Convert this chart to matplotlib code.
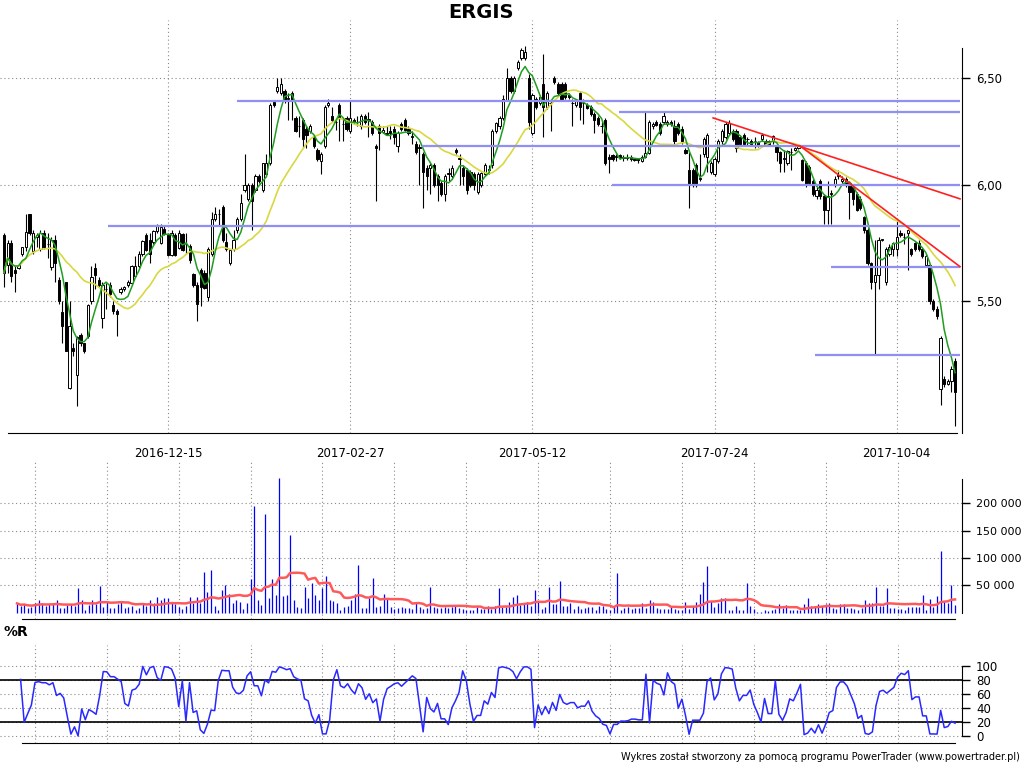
import numpy as np
import pandas as pd
import matplotlib
matplotlib.use("Agg")
import matplotlib.pyplot as plt
from matplotlib.ticker import FixedLocator, NullLocator, FuncFormatter

# ---- data (ERGIS, daily) ----
opn = [5.78, 5.65, 5.745, 5.63, 5.64, 5.70, 5.73, 5.87, 5.71, 5.77,
       5.72, 5.79, 5.74, 5.645, 5.76, 5.59, 5.455, 5.58, 5.155, 5.31,
       5.204, 5.364, 5.33, 5.36, 5.502, 5.64, 5.59, 5.434, 5.55, 5.57,
       5.484, 5.461, 5.539, 5.55, 5.566, 5.577, 5.605, 5.647, 5.70, 5.781,
       5.76, 5.752, 5.796, 5.747, 5.807, 5.781, 5.696, 5.781, 5.724, 5.784,
       5.74, 5.731, 5.612, 5.57, 5.63, 5.62, 5.52, 5.70, 5.85, 5.87,
       5.905, 5.75, 5.66, 5.72, 5.80, 5.85, 5.98, 5.94, 6.00, 5.98,
       6.04, 5.98, 6.05, 6.10, 6.385, 6.44, 6.427, 6.44, 6.40, 6.43,
       6.31, 6.27, 6.30, 6.26, 6.25, 6.22, 6.16, 6.11, 6.18, 6.37,
       6.32, 6.29, 6.37, 6.28, 6.31, 6.25, 6.30, 6.29, 6.27, 6.32,
       6.30, 6.29, 6.18, 6.27, 6.245, 6.24, 6.25, 6.26, 6.18, 6.28,
       6.30, 6.26, 6.22, 6.19, 6.17, 6.14, 6.08, 6.08, 6.09, 6.04,
       6.01, 5.96, 6.05, 6.04, 6.16, 6.12, 6.08, 6.07, 6.06, 6.05,
       5.97, 6.00, 6.05, 6.07, 6.09, 6.25, 6.27, 6.31, 6.395, 6.50,
       6.44, 6.55, 6.60, 6.60, 6.50, 6.24, 6.40, 6.38, 6.47, 6.36,
       6.38, 6.50, 6.47, 6.47, 6.47, 6.42, 6.38, 6.37, 6.43, 6.38,
       6.37, 6.36, 6.33, 6.31, 6.27, 6.30, 6.13, 6.135, 6.13, 6.135,
       6.125, 6.125, 6.13, 6.12, 6.12, 6.11, 6.13, 6.145, 6.27, 6.29,
       6.28, 6.29, 6.28, 6.29, 6.27, 6.28, 6.26, 6.16, 6.07, 6.07,
       6.09, 6.03, 6.14, 6.13, 6.06, 6.05, 6.11, 6.20, 6.22, 6.24,
       6.25, 6.25, 6.22, 6.23, 6.21, 6.20, 6.20, 6.195, 6.21, 6.20,
       6.20, 6.20, 6.175, 6.15, 6.12, 6.10, 6.15, 6.16, 6.17, 6.115,
       6.10, 6.084, 6.02, 5.95, 6.02, 5.95, 5.89, 5.96, 6.00, 6.04,
       6.02, 6.03, 6.01, 5.99, 5.96, 5.94, 5.86, 5.80, 5.66, 5.58,
       5.61, 5.76, 5.58, 5.70, 5.72, 5.72, 5.79, 5.77, 5.79, 5.72,
       5.745, 5.745, 5.72, 5.65, 5.65, 5.50, 5.47, 5.15, 5.19, 5.17,
       5.18, 5.26]
high = [5.79, 5.76, 5.76, 5.65, 5.655, 5.73, 5.87, 5.87, 5.80, 5.79,
        5.80, 5.80, 5.79, 5.77, 5.78, 5.60, 5.50, 5.58, 5.50, 5.33,
        5.36, 5.37, 5.33, 5.49, 5.647, 5.66, 5.60, 5.58, 5.577, 5.58,
        5.50, 5.47, 5.56, 5.565, 5.59, 5.65, 5.69, 5.71, 5.76, 5.79,
        5.79, 5.80, 5.83, 5.83, 5.82, 5.79, 5.80, 5.79, 5.80, 5.79,
        5.79, 5.74, 5.62, 5.58, 5.64, 5.63, 5.73, 5.88, 5.905, 5.895,
        5.91, 5.79, 5.72, 5.80, 5.86, 5.96, 6.14, 6.01, 6.01, 6.05,
        6.05, 6.10, 6.14, 6.38, 6.39, 6.50, 6.50, 6.45, 6.43, 6.44,
        6.32, 6.32, 6.31, 6.27, 6.28, 6.23, 6.17, 6.15, 6.37, 6.40,
        6.36, 6.30, 6.38, 6.31, 6.32, 6.39, 6.31, 6.32, 6.33, 6.33,
        6.34, 6.30, 6.19, 6.28, 6.27, 6.27, 6.27, 6.27, 6.25, 6.29,
        6.31, 6.27, 6.25, 6.20, 6.19, 6.15, 6.09, 6.10, 6.10, 6.05,
        6.02, 6.05, 6.08, 6.09, 6.17, 6.14, 6.09, 6.08, 6.07, 6.06,
        6.06, 6.06, 6.10, 6.09, 6.26, 6.29, 6.32, 6.42, 6.55, 6.51,
        6.51, 6.59, 6.65, 6.66, 6.52, 6.43, 6.41, 6.42, 6.62, 6.44,
        6.39, 6.51, 6.48, 6.48, 6.48, 6.43, 6.40, 6.40, 6.44, 6.40,
        6.38, 6.37, 6.34, 6.32, 6.30, 6.31, 6.14, 6.14, 6.14, 6.14,
        6.135, 6.14, 6.135, 6.125, 6.125, 6.135, 6.34, 6.30, 6.29, 6.30,
        6.29, 6.345, 6.30, 6.30, 6.30, 6.29, 6.27, 6.17, 6.16, 6.08,
        6.10, 6.14, 6.22, 6.24, 6.11, 6.13, 6.21, 6.26, 6.29, 6.30,
        6.26, 6.26, 6.23, 6.24, 6.22, 6.21, 6.22, 6.20, 6.24, 6.21,
        6.205, 6.23, 6.18, 6.155, 6.16, 6.16, 6.17, 6.175, 6.19, 6.12,
        6.11, 6.09, 6.03, 5.99, 6.03, 5.96, 6.02, 5.98, 6.04, 6.07,
        6.04, 6.035, 6.015, 6.00, 5.97, 5.95, 5.865, 5.81, 5.665, 5.76,
        5.77, 5.765, 5.73, 5.74, 5.75, 5.84, 5.80, 5.79, 5.805, 5.725,
        5.75, 5.76, 5.725, 5.70, 5.655, 5.51, 5.48, 5.36, 5.20, 5.19,
        5.24, 5.27]
low = [5.56, 5.62, 5.58, 5.54, 5.635, 5.69, 5.71, 5.78, 5.70, 5.73,
       5.71, 5.72, 5.68, 5.63, 5.58, 5.49, 5.33, 5.30, 5.15, 5.28,
       5.086, 5.32, 5.29, 5.35, 5.49, 5.55, 5.56, 5.39, 5.468, 5.52,
       5.45, 5.36, 5.53, 5.545, 5.56, 5.57, 5.60, 5.64, 5.69, 5.71,
       5.66, 5.74, 5.79, 5.74, 5.78, 5.69, 5.69, 5.69, 5.72, 5.71,
       5.70, 5.66, 5.56, 5.42, 5.48, 5.55, 5.50, 5.69, 5.84, 5.82,
       5.75, 5.71, 5.65, 5.71, 5.79, 5.84, 5.97, 5.93, 5.80, 5.97,
       6.01, 5.97, 6.04, 6.09, 6.36, 6.43, 6.42, 6.38, 6.30, 6.30,
       6.245, 6.22, 6.17, 6.17, 6.24, 6.17, 6.11, 6.05, 6.17, 6.36,
       6.29, 6.255, 6.20, 6.20, 6.25, 6.24, 6.28, 6.27, 6.26, 6.28,
       6.22, 6.23, 5.93, 6.16, 6.24, 6.23, 6.21, 6.19, 6.15, 6.25,
       6.25, 6.23, 6.19, 6.14, 6.00, 5.90, 5.98, 5.96, 5.99, 5.93,
       5.95, 5.93, 6.02, 6.03, 6.14, 6.00, 6.00, 5.96, 5.99, 5.98,
       5.96, 5.99, 6.04, 6.05, 6.08, 6.24, 6.26, 6.30, 6.39, 6.43,
       6.43, 6.54, 6.59, 6.59, 6.26, 6.23, 6.35, 6.37, 6.22, 6.35,
       6.25, 6.47, 6.42, 6.39, 6.40, 6.40, 6.27, 6.36, 6.30, 6.28,
       6.35, 6.32, 6.24, 6.27, 6.24, 6.09, 6.057, 6.11, 6.11, 6.12,
       6.11, 6.115, 6.11, 6.11, 6.10, 6.105, 6.125, 6.14, 6.26, 6.27,
       6.23, 6.28, 6.27, 6.27, 6.19, 6.23, 6.19, 6.14, 5.90, 5.99,
       5.99, 6.02, 6.13, 6.06, 6.05, 6.04, 6.10, 6.19, 6.21, 6.23,
       6.20, 6.15, 6.185, 6.18, 6.18, 6.18, 6.17, 6.175, 6.20, 6.18,
       6.18, 6.19, 6.11, 6.06, 6.06, 6.09, 6.07, 6.155, 6.165, 6.02,
       5.99, 6.00, 5.95, 5.94, 5.94, 5.83, 5.83, 5.83, 5.99, 6.03,
       6.01, 5.99, 5.85, 5.91, 5.885, 5.89, 5.79, 5.65, 5.55, 5.285,
       5.55, 5.755, 5.57, 5.69, 5.69, 5.69, 5.77, 5.74, 5.63, 5.69,
       5.71, 5.71, 5.68, 5.645, 5.49, 5.46, 5.43, 5.09, 5.16, 5.165,
       5.14, 5.01]
close = [5.62, 5.745, 5.605, 5.62, 5.65, 5.73, 5.795, 5.79, 5.79, 5.78,
         5.79, 5.73, 5.74, 5.76, 5.66, 5.50, 5.40, 5.30, 5.40, 5.30,
         5.354, 5.33, 5.30, 5.484, 5.60, 5.61, 5.57, 5.57, 5.55, 5.53,
         5.461, 5.448, 5.552, 5.561, 5.581, 5.647, 5.647, 5.70, 5.756, 5.717,
         5.70, 5.796, 5.824, 5.817, 5.784, 5.696, 5.789, 5.696, 5.789, 5.717,
         5.74, 5.675, 5.57, 5.488, 5.56, 5.557, 5.72, 5.85, 5.87, 5.87,
         5.76, 5.72, 5.715, 5.76, 5.85, 5.92, 6.00, 6.00, 5.93, 6.04,
         6.02, 6.10, 6.10, 6.37, 6.37, 6.46, 6.47, 6.39, 6.40, 6.39,
         6.25, 6.27, 6.21, 6.23, 6.27, 6.18, 6.12, 6.14, 6.36, 6.38,
         6.30, 6.29, 6.31, 6.28, 6.26, 6.31, 6.29, 6.29, 6.32, 6.29,
         6.30, 6.24, 6.17, 6.24, 6.255, 6.235, 6.24, 6.22, 6.24, 6.26,
         6.255, 6.24, 6.22, 6.15, 6.17, 6.06, 6.04, 6.09, 6.00, 6.00,
         5.96, 6.04, 6.05, 6.08, 6.15, 6.12, 6.04, 5.98, 6.00, 6.00,
         6.05, 6.055, 6.09, 6.075, 6.25, 6.285, 6.31, 6.40, 6.50, 6.44,
         6.50, 6.58, 6.64, 6.63, 6.29, 6.42, 6.36, 6.41, 6.36, 6.43,
         6.38, 6.48, 6.43, 6.40, 6.41, 6.41, 6.38, 6.39, 6.36, 6.38,
         6.355, 6.33, 6.30, 6.28, 6.27, 6.10, 6.12, 6.12, 6.13, 6.125,
         6.125, 6.125, 6.12, 6.115, 6.115, 6.13, 6.145, 6.29, 6.28, 6.275,
         6.24, 6.32, 6.29, 6.28, 6.20, 6.24, 6.20, 6.145, 6.00, 6.00,
         6.00, 6.03, 6.21, 6.23, 6.10, 6.12, 6.20, 6.25, 6.28, 6.285,
         6.21, 6.17, 6.19, 6.19, 6.21, 6.19, 6.20, 6.18, 6.23, 6.185,
         6.185, 6.225, 6.15, 6.10, 6.12, 6.155, 6.15, 6.17, 6.185, 6.024,
         6.00, 6.012, 5.96, 5.98, 5.95, 5.89, 5.95, 5.96, 6.03, 6.045,
         6.03, 6.00, 5.97, 5.94, 5.89, 5.90, 5.80, 5.66, 5.58, 5.61,
         5.76, 5.76, 5.72, 5.73, 5.745, 5.77, 5.78, 5.77, 5.80, 5.70,
         5.72, 5.72, 5.69, 5.69, 5.50, 5.47, 5.44, 5.35, 5.17, 5.18,
         5.23, 5.14]
volume_k = [17, 12, 16, 9, 11, 17, 23, 17, 13, 16,
            17, 23, 8, 9, 14, 16, 13, 45, 23, 5,
            14, 23, 16, 49, 11, 20, 9, 9, 16, 20,
            9, 11, 13, 5, 9, 17, 12, 24, 17, 29,
            24, 27, 27, 19, 16, 11, 6, 12, 29, 17,
            29, 17, 74, 38, 78, 12, 5, 41, 50, 35,
            17, 23, 20, 7, 17, 62, 195, 23, 14, 180,
            27, 62, 32, 246, 30, 32, 142, 23, 11, 9,
            47, 27, 54, 32, 23, 46, 67, 23, 21, 17,
            5, 10, 12, 23, 35, 87, 9, 9, 27, 63,
            10, 12, 35, 25, 10, 7, 9, 10, 9, 9,
            6, 20, 11, 7, 8, 47, 10, 9, 9, 11,
            9, 11, 13, 9, 7, 5, 5, 5, 10,
            7, 7, 12, 7, 12, 45, 11, 11, 19, 29,
            32, 14, 17, 19, 12, 41, 20, 7, 10, 47,
            16, 16, 58, 12, 12, 17, 6, 12, 7, 9,
            10, 11, 5, 12, 12, 7, 5, 10, 72, 5,
            9, 11, 7, 8, 9, 18, 9, 23, 19, 9,
            7, 7, 7, 12, 7, 5, 5, 20, 7, 12,
            20, 34, 56, 85, 21, 10, 17, 26, 26, 5,
            5, 12, 5, 5, 54, 12, 7, 2, 2, 5,
            3, 5, 7, 16, 9, 14, 5, 5, 5, 5,
            16, 27, 12, 12, 16, 12, 16, 18, 9, 7,
            16, 16, 9, 9, 7, 5, 9, 23, 18, 18,
            47, 12, 12, 45, 9, 9, 7, 7, 5, 10,
            10, 10, 10, 32, 5, 25, 10, 30, 113, 21,
            18, 50, 14]

date_labels = ["2016-12-15", "2017-02-27", "2017-05-12", "2017-07-24", "2017-10-04"]
date_bars = [45, 95, 145, 195, 245]

# drawn support / resistance levels: (first bar, price)
level_start = [63.9, 28.5, 114.7, 168.8, 166.8, 226.9, 222.6]
level_price = [6.39, 5.82, 6.18, 6.338, 6.00, 5.645, 5.285]
# drawn trend lines: (bar, price) -> (bar, price)
trend_a = [(194.6, 6.31), (262.35, 5.939)]
trend_b = [(218.4, 6.18), (262.35, 5.645)]

df = pd.DataFrame({"o": opn, "h": high, "l": low, "c": close})
df["v"] = np.array(volume_k) * 1000.0
df["ma5"] = df["c"].rolling(5, min_periods=1).mean()
df["ma20"] = df["c"].rolling(20, min_periods=1).mean()
df["vma"] = df["v"].rolling(15, min_periods=1).mean()
hh = df["h"].rolling(10, min_periods=1).max()
ll = df["l"].rolling(10, min_periods=1).min()
df["wr"] = 100 * (df["c"] - ll) / (hh - ll)

x = np.arange(len(df))
W, H = 1024, 768
fig = plt.figure(figsize=(W / 100, H / 100), dpi=100)
plt.rcParams["font.family"] = ["DejaVu Sans"]


def px_axes(x0, y0, x1, y1):
    return fig.add_axes([x0 / W, 1 - y1 / H, (x1 - x0) / W, (y1 - y0) / H])


dot = (0, (1, 2.5))
grid_c = "#8a8a8a"

# ---- price panel ----
ax = px_axes(0, 20, 962, 433)
ax.set_yscale("log")
ax.set_xlim(-1.098, -1.098 + 962 / 3.644)
ax.set_ylim(4.984, 6.790)

up = (df["c"] >= df["o"]).values
ax.vlines(x, df["l"], df["h"], color="black", lw=0.8, zorder=2)
body_lo = np.minimum(df["o"], df["c"])
body_h = np.maximum((df["c"] - df["o"]).abs(), 0.003)
ax.bar(x, body_h, bottom=body_lo, width=0.62,
       color=np.where(up, "white", "black"), edgecolor="black",
       linewidth=0.7, zorder=3)

ax.plot(x, df["ma20"], color="#d8d840", lw=1.2, zorder=4)
ax.plot(x, df["ma5"], color="#1f9e1f", lw=1.1, zorder=4)

for s, p in zip(level_start, level_price):
    ax.hlines(p, s, 262.35, color="#9090f4", lw=1.6, zorder=5)
for (xa, ya), (xb, yb) in (trend_a, trend_b):
    ax.plot([xa, xb], [ya, yb], color="#ff2020", lw=1.2, zorder=5)

ax.yaxis.set_major_locator(FixedLocator([5.5, 6.0, 6.5]))
ax.yaxis.set_minor_locator(NullLocator())
ax.yaxis.set_major_formatter(FuncFormatter(lambda v, _: f"{v:.2f}".replace(".", ",")))
ax.yaxis.tick_right()
ax.tick_params(axis="y", direction="out", length=6, width=1, labelsize=8.5, pad=4)
ax.set_xticks(date_bars)
ax.set_xticklabels(date_labels)
ax.tick_params(axis="x", length=0, labelsize=8.5, pad=10)
ax.grid(True, linestyle=dot, color=grid_c, lw=0.8, zorder=0)
for side in ("left", "top"):
    ax.spines[side].set_visible(False)
ax.spines["right"].set_bounds(4.984, 6.65)
ax.spines["bottom"].set_bounds(1.1, 261.5)

fig.text(481 / W, 1 - 12 / H, "ERGIS", ha="center", va="center",
         fontsize=14, fontweight="bold")

# ---- volume panel ----
step = 3.594
lx0, lx1 = -17 / step, (962 - 17) / step
vgrid = np.arange(5, 262, 20)
axv = px_axes(0, 460, 962, 619)
axv.set_xlim(lx0, lx1)
axv.set_ylim(-11500, 279000)
axv.vlines(x, 0, df["v"], color="#0000ff", lw=0.9, zorder=3)
axv.plot(x, df["vma"], color="#ff5a5a", lw=1.8, zorder=4)
axv.yaxis.set_major_locator(FixedLocator([50000, 100000, 150000, 200000]))
axv.yaxis.set_major_formatter(FuncFormatter(lambda v, _: f"{int(v):,}".replace(",", " ")))
axv.yaxis.tick_right()
axv.tick_params(axis="y", direction="out", length=6, width=1, labelsize=8, pad=4)
axv.set_xticks(vgrid)
axv.tick_params(axis="x", length=0, labelbottom=False)
axv.grid(True, linestyle=dot, color=grid_c, lw=0.8, zorder=0)
for side in ("left", "top"):
    axv.spines[side].set_visible(False)
axv.spines["right"].set_bounds(0, 244000)
axv.spines["bottom"].set_bounds(1.4, 261)

# ---- %R panel ----
axr = px_axes(0, 645, 962, 743)
axr.set_xlim(lx0, lx1)
axr.set_ylim(-10, 129.4)
axr.plot(x[1:], df["wr"].values[1:], color="#2828ff", lw=1.1, zorder=4)
axr.axhline(80, color="black", lw=1.2, zorder=3)
axr.axhline(20, color="black", lw=1.2, zorder=3)
axr.yaxis.set_major_locator(FixedLocator([0, 20, 40, 60, 80, 100]))
axr.yaxis.tick_right()
axr.tick_params(axis="y", direction="out", length=6, width=1, labelsize=8.5, pad=4)
axr.set_xticks(vgrid)
axr.tick_params(axis="x", length=0, labelbottom=False)
axr.grid(True, linestyle=dot, color=grid_c, lw=0.8, zorder=0)
for side in ("left", "top"):
    axr.spines[side].set_visible(False)
axr.spines["right"].set_bounds(0, 100)
axr.spines["bottom"].set_bounds(1.4, 261)
fig.text(4 / W, 1 - 632 / H, "%R", ha="left", va="center", fontsize=10, fontweight="bold")

fig.text(1020 / W, 1 - 757 / H,
         "Wykres został stworzony za pomocą programu PowerTrader (www.powertrader.pl)",
         ha="right", va="center", fontsize=7)

fig.savefig("out.png", dpi=100)
